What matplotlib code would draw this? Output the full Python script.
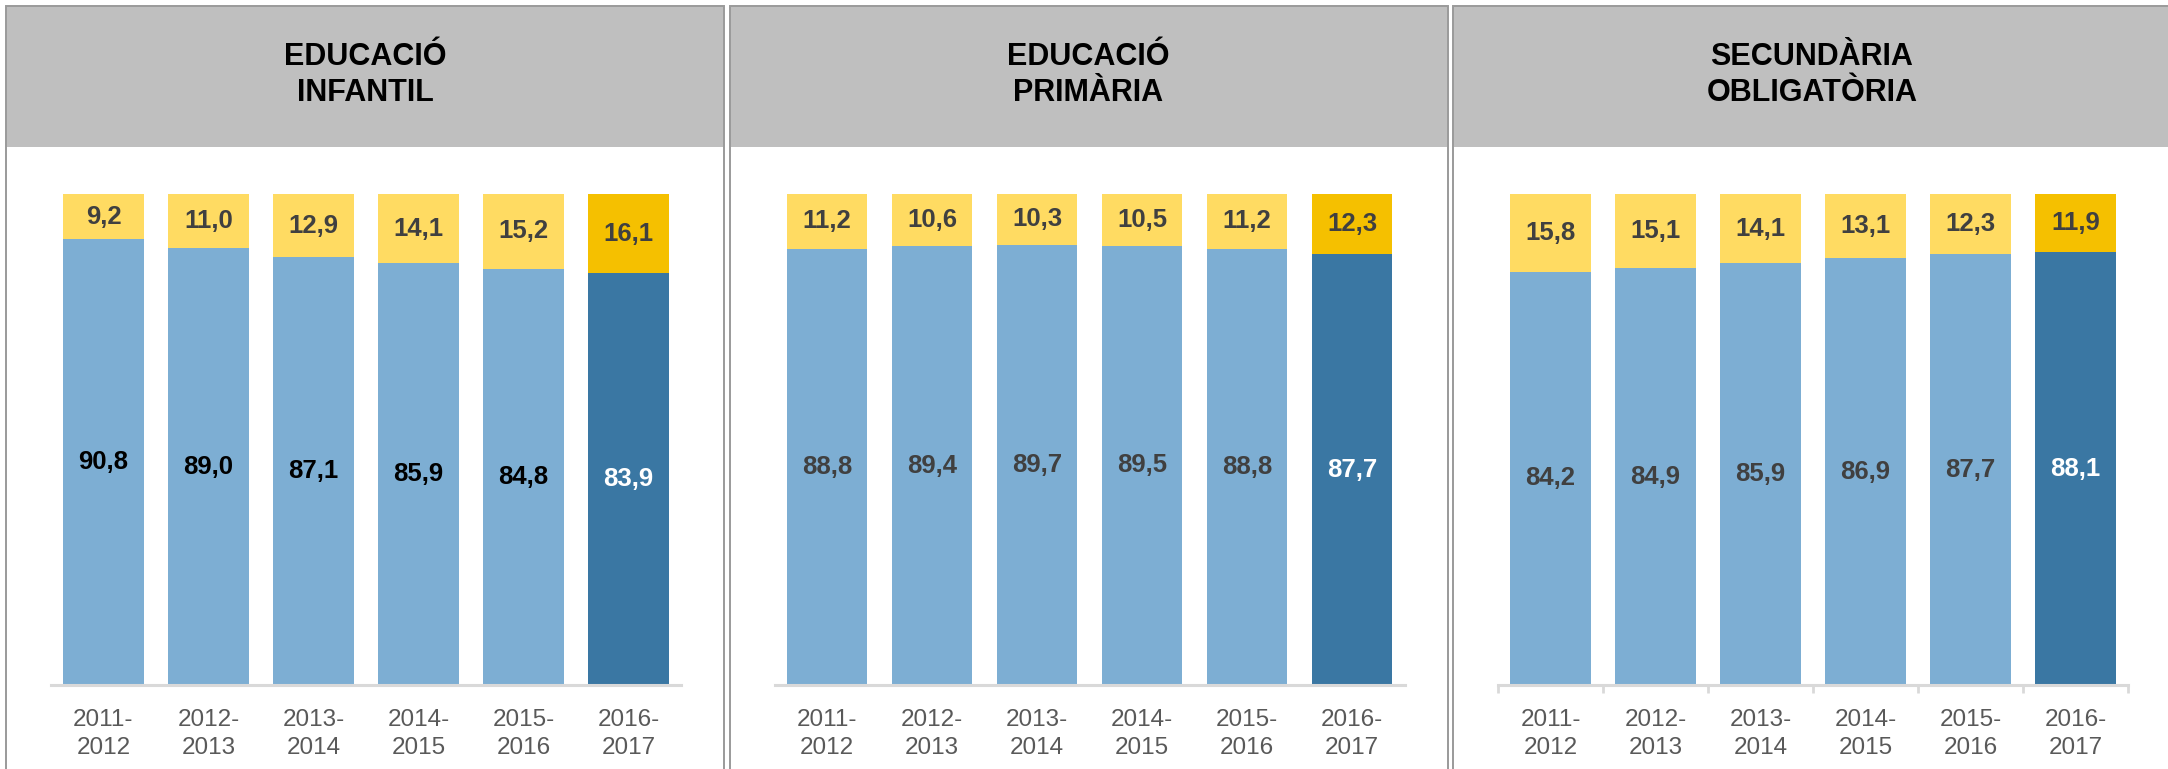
import numpy as np
import matplotlib
matplotlib.use("Agg")
import matplotlib.pyplot as plt
from matplotlib.patches import Rectangle

plt.rcParams['font.family'] = ['Liberation Sans', 'DejaVu Sans']

# data
cursos = ['2011-\n2012', '2012-\n2013', '2013-\n2014', '2014-\n2015', '2015-\n2016', '2016-\n2017']
titols = ['EDUCACIÓ\nINFANTIL', 'EDUCACIÓ\nPRIMÀRIA', 'SECUNDÀRIA\nOBLIGATÒRIA']
infantil_baix = [90.8, 89.0, 87.1, 85.9, 84.8, 83.9]
infantil_dalt = [9.2, 11.0, 12.9, 14.1, 15.2, 16.1]
primaria_baix = [88.8, 89.4, 89.7, 89.5, 88.8, 87.7]
primaria_dalt = [11.2, 10.6, 10.3, 10.5, 11.2, 12.3]
secundaria_baix = [84.2, 84.9, 85.9, 86.9, 87.7, 88.1]
secundaria_dalt = [15.8, 15.1, 14.1, 13.1, 12.3, 11.9]

series = [(infantil_baix, infantil_dalt),
          (primaria_baix, primaria_dalt),
          (secundaria_baix, secundaria_dalt)]

blau = '#7DAED3'
blau_fosc = '#3A77A3'
groc = '#FFDB62'
groc_fosc = '#F5C000'

W, H = 2168, 769
fig = plt.figure(figsize=(W / 100, H / 100), dpi=100)

panel_left = [6, 729.5, 1453]
panel_w = 718
top_y = 6
head_bot = 147
ax_bot = 685
ax_top = 194

def fx(px):
    return px / W

def fy(py):
    return 1 - py / H

for i in range(3):
    pl = panel_left[i]
    # capçalera grisa
    fig.add_artist(Rectangle((fx(pl), fy(head_bot)), fx(panel_w), fy(top_y) - fy(head_bot),
                             transform=fig.transFigure, facecolor='#BFBFBF', edgecolor='none', zorder=0))
    # marc
    fig.add_artist(Rectangle((fx(pl), fy(H + 20)), fx(panel_w), fy(top_y) - fy(H + 20),
                             transform=fig.transFigure, facecolor='none', edgecolor='#9A9A9A',
                             lw=1.4, zorder=1))
    fig.text(fx(pl + panel_w / 2), fy(75), titols[i], ha='center', va='center',
             fontsize=22, fontweight='bold', linespacing=1.25, color='black')

    ax = fig.add_axes([fx(pl + 45), fy(ax_bot), fx(630), (ax_bot - ax_top) / H])
    baix, dalt = series[i]
    x = np.arange(len(cursos))
    cb = [blau] * 5 + [blau_fosc]
    cd = [groc] * 5 + [groc_fosc]
    ax.bar(x, baix, width=0.77, color=cb, linewidth=0)
    ax.bar(x, dalt, bottom=baix, width=0.77, color=cd, linewidth=0)

    col_baix = 'black' if i == 0 else '#404040'
    for j in range(len(x)):
        c = 'white' if j == 5 else col_baix
        ax.text(x[j], baix[j] / 2, f'{baix[j]:.1f}'.replace('.', ','), ha='center', va='center',
                fontsize=18.5, fontweight='bold', color=c)
        ax.text(x[j], baix[j] + dalt[j] / 2, f'{dalt[j]:.1f}'.replace('.', ','), ha='center',
                va='center', fontsize=18.5, fontweight='bold', color='#404040')

    ax.set_xlim(-0.5, 5.5)
    ax.set_ylim(0, 100)
    ax.set_yticks([])
    ax.set_xticks(x)
    ax.set_xticklabels(cursos, fontsize=17.5, color='#595959', linespacing=1.35)
    ax.tick_params(axis='x', length=0, pad=17)
    for s in ['top', 'left', 'right']:
        ax.spines[s].set_visible(False)
    ax.spines['bottom'].set_color('#D9D9D9')
    ax.spines['bottom'].set_linewidth(2.2)
    ax.patch.set_alpha(0)
    if i == 2:
        ax.set_xticks(np.arange(-0.5, 6, 1), minor=True)
        ax.tick_params(axis='x', which='minor', length=6, width=2, color='#D9D9D9')

fig.savefig('out.png', dpi=100)
